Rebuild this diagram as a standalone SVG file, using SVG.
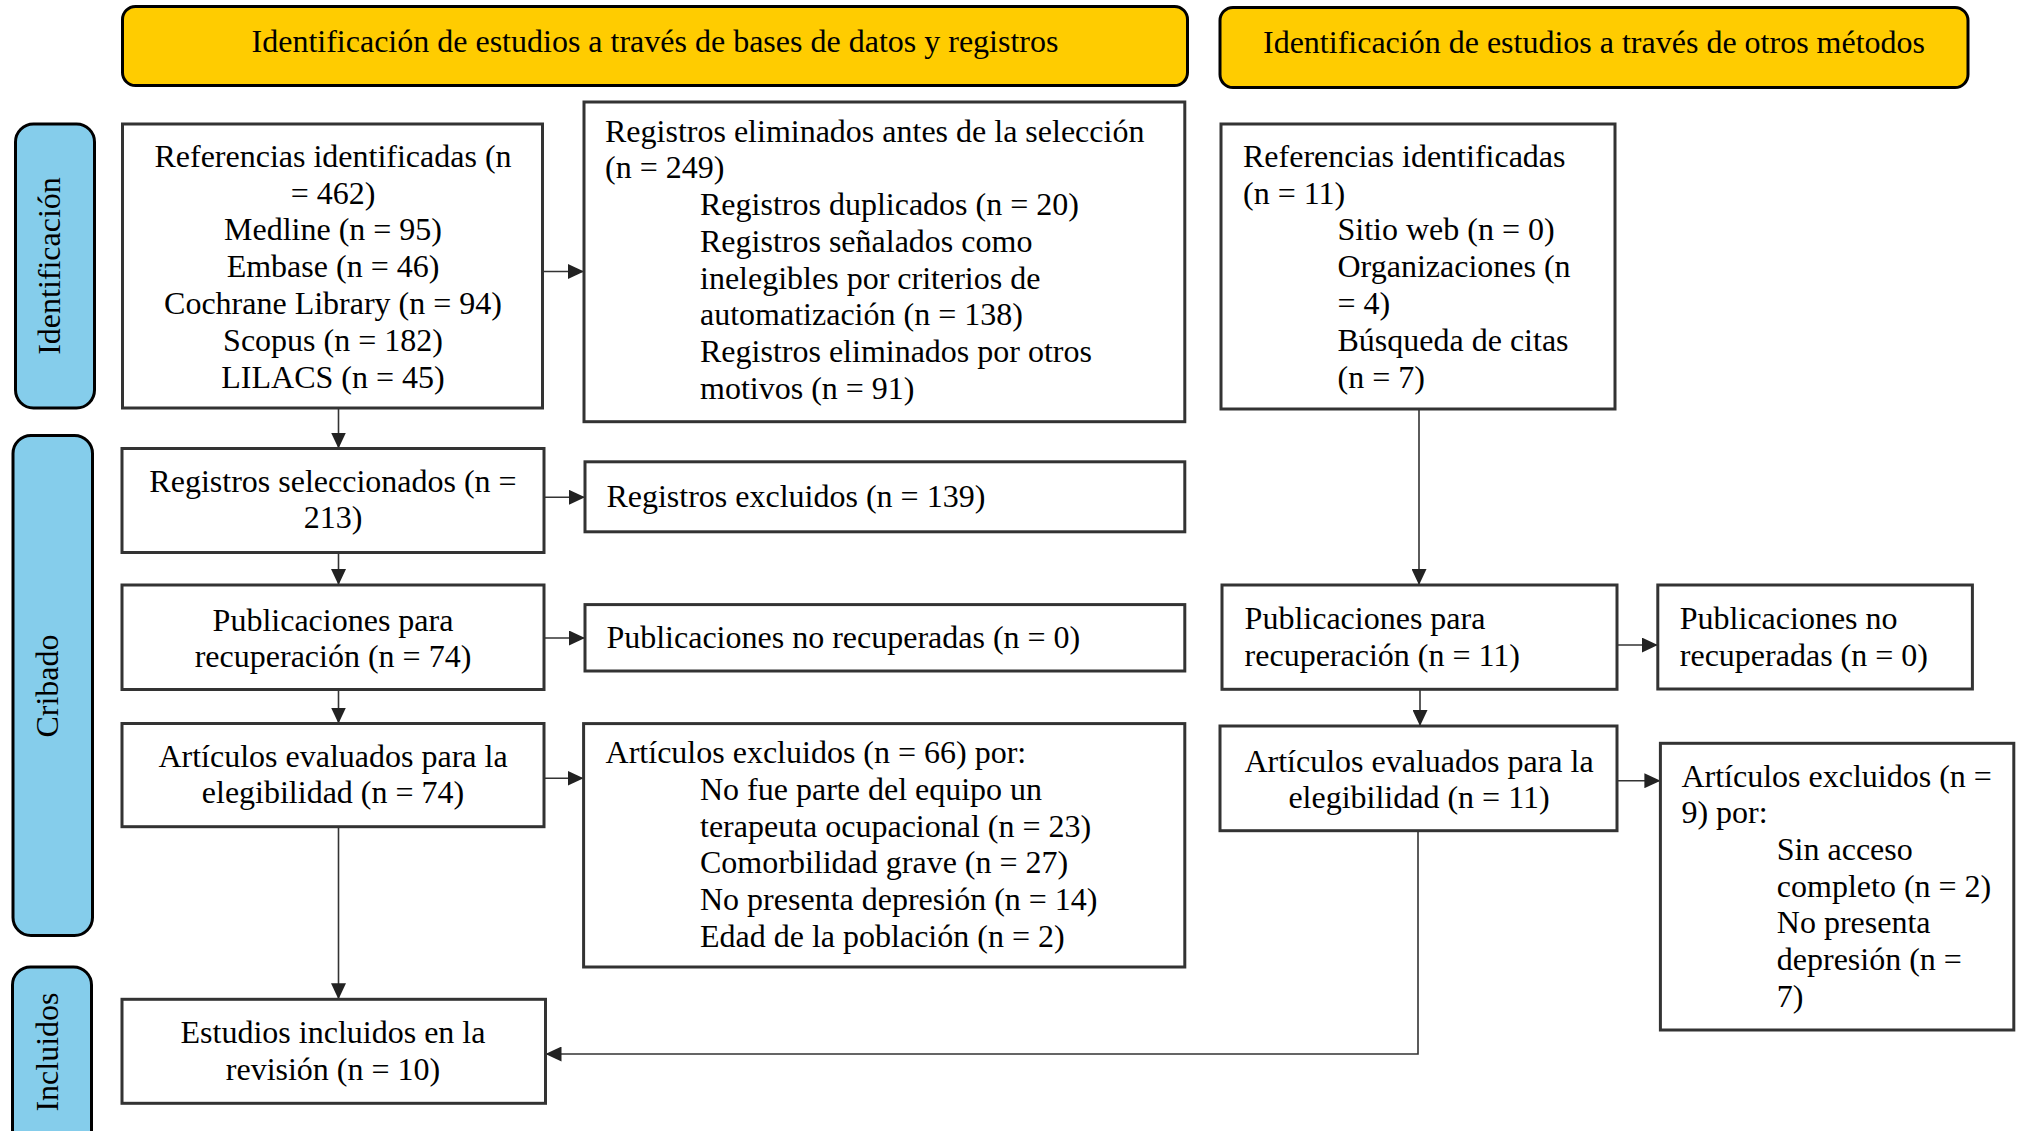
<svg xmlns="http://www.w3.org/2000/svg" width="2022" height="1131" viewBox="0 0 2022 1131">
<defs>
<style>
.t{font-family:"Liberation Serif","Times New Roman",serif;font-size:32px;fill:#000}
.c{text-anchor:middle}
.box{fill:#fff;stroke:#333;stroke-width:3}
.hdr{fill:#FFCC00;stroke:#000;stroke-width:3}
.side{fill:#85CDEB;stroke:#000;stroke-width:3}
.con{fill:none;stroke:#333;stroke-width:1.6}
</style>
<marker id="ah" markerUnits="userSpaceOnUse" viewBox="0 0 16 15" markerWidth="16" markerHeight="15" refX="16" refY="7.5" orient="auto">
<path d="M0,0 L16,7.5 L0,15 z" fill="#222"/>
</marker>
</defs>
<rect width="2022" height="1131" fill="#fff"/>

<g id="header1">
<rect class="hdr" x="122.5" y="6.5" width="1065" height="79" rx="13"/>
<text class="t c" x="655" y="52">Identificación de estudios a través de bases de datos y registros</text>
</g>
<g id="header2">
<rect class="hdr" x="1220" y="7.5" width="748" height="80" rx="13"/>
<text class="t c" x="1594" y="52.5">Identificación de estudios a través de otros métodos</text>
</g>

<g id="label-identificacion">
<rect class="side" x="15.5" y="124" width="79" height="284" rx="18"/>
<text class="t c" transform="translate(60,266) rotate(-90)" x="0" y="0">Identificación</text>
</g>
<g id="label-cribado">
<rect class="side" x="13" y="435.5" width="79.5" height="500" rx="18"/>
<text class="t c" transform="translate(58,686) rotate(-90)" x="0" y="0">Cribado</text>
</g>
<g id="label-incluidos">
<rect class="side" x="12.5" y="967" width="79" height="185" rx="18"/>
<text class="t c" transform="translate(58,1052) rotate(-90)" x="0" y="0">Incluidos</text>
</g>

<g id="connectors">
<path class="con" marker-end="url(#ah)" d="M542.5,271.5 H584"/>
<path class="con" marker-end="url(#ah)" d="M338.5,408 V448.5"/>
<path class="con" marker-end="url(#ah)" d="M544,497.3 H585"/>
<path class="con" marker-end="url(#ah)" d="M338.5,552.5 V585"/>
<path class="con" marker-end="url(#ah)" d="M544,638 H585"/>
<path class="con" marker-end="url(#ah)" d="M338.5,689.5 V723.5"/>
<path class="con" marker-end="url(#ah)" d="M544,778.3 H583.6"/>
<path class="con" marker-end="url(#ah)" d="M338.5,826.7 V999.3"/>
<path class="con" marker-end="url(#ah)" d="M1419,409 V585"/>
<path class="con" marker-end="url(#ah)" d="M1617,645 H1657.8"/>
<path class="con" marker-end="url(#ah)" d="M1420,689.3 V726"/>
<path class="con" marker-end="url(#ah)" d="M1617,780.7 H1660.4"/>
<path class="con" marker-end="url(#ah)" d="M1418,830.7 V1054 H545.5"/>
</g>

<g id="refs-db">
<rect class="box" x="122.5" y="124" width="420" height="284"/>
<text class="t c" x="333" y="166.7">Referencias identificadas (n</text>
<text class="t c" x="333" y="203.5">= 462)</text>
<text class="t c" x="333" y="240.3">Medline (n = 95)</text>
<text class="t c" x="333" y="277.1">Embase (n = 46)</text>
<text class="t c" x="333" y="313.9">Cochrane Library (n = 94)</text>
<text class="t c" x="333" y="350.7">Scopus (n = 182)</text>
<text class="t c" x="333" y="387.5">LILACS (n = 45)</text>
</g>

<g id="removed">
<rect class="box" x="584" y="102" width="600.8" height="319.7"/>
<text class="t" x="605" y="141.7">Registros eliminados antes de la selección</text>
<text class="t" x="605" y="178.4">(n = 249)</text>
<text class="t" x="700" y="215.1">Registros duplicados (n = 20)</text>
<text class="t" x="700" y="251.8">Registros señalados como</text>
<text class="t" x="700" y="288.5">inelegibles por criterios de</text>
<text class="t" x="700" y="325.2">automatización (n = 138)</text>
<text class="t" x="700" y="361.9">Registros eliminados por otros</text>
<text class="t" x="700" y="398.6">motivos (n = 91)</text>
</g>

<g id="refs-other">
<rect class="box" x="1221" y="124" width="394" height="285"/>
<text class="t" x="1243" y="166.7">Referencias identificadas</text>
<text class="t" x="1243" y="203.5">(n = 11)</text>
<text class="t" x="1337.5" y="240.3">Sitio web (n = 0)</text>
<text class="t" x="1337.5" y="277.1">Organizaciones (n</text>
<text class="t" x="1337.5" y="313.9">= 4)</text>
<text class="t" x="1337.5" y="350.7">Búsqueda de citas</text>
<text class="t" x="1337.5" y="387.5">(n = 7)</text>
</g>

<g id="screened">
<rect class="box" x="122" y="448.5" width="422" height="104"/>
<text class="t c" x="333" y="491.7">Registros seleccionados (n =</text>
<text class="t c" x="333" y="528.3">213)</text>
</g>

<g id="excluded-records">
<rect class="box" x="585" y="461.8" width="599.8" height="70"/>
<text class="t" x="606.4" y="506.8">Registros excluidos (n = 139)</text>
</g>

<g id="retrieval-db">
<rect class="box" x="122" y="585" width="422" height="104.5"/>
<text class="t c" x="333" y="630.7">Publicaciones para</text>
<text class="t c" x="333" y="667.3">recuperación (n = 74)</text>
</g>

<g id="not-retrieved-db">
<rect class="box" x="585" y="604.6" width="599.8" height="66.4"/>
<text class="t" x="606.4" y="647.5">Publicaciones no recuperadas (n = 0)</text>
</g>

<g id="eligibility-db">
<rect class="box" x="122" y="723.5" width="422" height="103.2"/>
<text class="t c" x="333" y="766.7">Artículos evaluados para la</text>
<text class="t c" x="333" y="803.3">elegibilidad (n = 74)</text>
</g>

<g id="excluded-db">
<rect class="box" x="583.6" y="723.6" width="601.2" height="243.4"/>
<text class="t" x="605.6" y="762.9">Artículos excluidos (n = 66) por:</text>
<text class="t" x="700" y="799.7">No fue parte del equipo un</text>
<text class="t" x="700" y="836.5">terapeuta ocupacional (n = 23)</text>
<text class="t" x="700" y="873.3">Comorbilidad grave (n = 27)</text>
<text class="t" x="700" y="910.1">No presenta depresión (n = 14)</text>
<text class="t" x="700" y="946.9">Edad de la población (n = 2)</text>
</g>

<g id="retrieval-other">
<rect class="box" x="1222" y="585" width="395" height="104.3"/>
<text class="t" x="1244.6" y="629.3">Publicaciones para</text>
<text class="t" x="1244.6" y="666">recuperación (n = 11)</text>
</g>

<g id="not-retrieved-other">
<rect class="box" x="1657.8" y="585" width="314.6" height="104"/>
<text class="t" x="1679.8" y="629.3">Publicaciones no</text>
<text class="t" x="1679.8" y="666">recuperadas (n = 0)</text>
</g>

<g id="eligibility-other">
<rect class="box" x="1220" y="726" width="397" height="104.7"/>
<text class="t c" x="1419" y="771.7">Artículos evaluados para la</text>
<text class="t c" x="1419" y="808.3">elegibilidad (n = 11)</text>
</g>

<g id="excluded-other">
<rect class="box" x="1660.4" y="743.3" width="353.4" height="286.7"/>
<text class="t" x="1681.4" y="786.7">Artículos excluidos (n =</text>
<text class="t" x="1681.4" y="823.3">9) por:</text>
<text class="t" x="1776.8" y="860">Sin acceso</text>
<text class="t" x="1776.8" y="896.7">completo (n = 2)</text>
<text class="t" x="1776.8" y="933.3">No presenta</text>
<text class="t" x="1776.8" y="970">depresión (n =</text>
<text class="t" x="1776.8" y="1006.7">7)</text>
</g>

<g id="included">
<rect class="box" x="122" y="999.3" width="423.5" height="104"/>
<text class="t c" x="333" y="1043.3">Estudios incluidos en la</text>
<text class="t c" x="333" y="1080">revisión (n = 10)</text>
</g>
</svg>
